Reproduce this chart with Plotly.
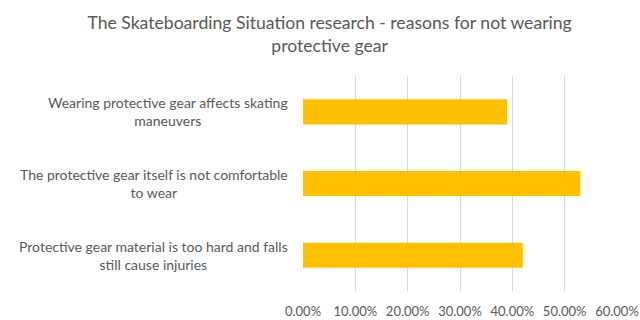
import plotly.graph_objects as go

categories = [
    "Protective gear material is too hard and falls<br>still cause injuries",
    "The protective gear itself is not comfortable<br>to wear",
    "Wearing protective gear affects skating<br>maneuvers",
]
values = [0.42, 0.53, 0.39]
tick_vals = [0, 0.1, 0.2, 0.3, 0.4, 0.5, 0.6]

FONT = "Lato"
GRAY = "#595959"

fig = go.Figure()
fig.add_trace(go.Bar(
    y=categories, x=values, orientation="h",
    marker=dict(color="#FFC000", line=dict(width=0)),
    hoverinfo="x+y",
))

for c in categories:
    fig.add_annotation(
        x=0, xref="paper", xanchor="right", xshift=-13,
        y=c, yref="y", yanchor="middle",
        text=c, showarrow=False, align="center",
        font=dict(family=FONT, size=14, color=GRAY),
    )

fig.update_layout(
    width=640, height=320,
    margin=dict(l=303, r=23, t=76, b=29, autoexpand=False),
    paper_bgcolor="white", plot_bgcolor="white",
    bargap=0.65,
    showlegend=False,
    title=dict(
        text="The Skateboarding Situation research - reasons for not wearing<br>protective gear",
        x=0.515, xanchor="center", y=0.908, yanchor="top",
        font=dict(family=FONT, size=17.6, color=GRAY),
    ),
    font=dict(family=FONT, size=13, color=GRAY),
)
fig.update_xaxes(
    range=[0, 0.6], tickvals=tick_vals, tickformat=".2%",
    showgrid=True, gridcolor="#D9D9D9", gridwidth=1,
    zeroline=False, showline=False, ticks="", automargin=False,
    ticklabelstandoff=11,
    tickfont=dict(family=FONT, size=13, color=GRAY),
)
fig.update_yaxes(showticklabels=False, showgrid=False, zeroline=False, showline=False, ticks="", automargin=False)

fig.write_html("out.html", config={"displayModeBar": False},
               post_script="document.body.style.margin='0';")
